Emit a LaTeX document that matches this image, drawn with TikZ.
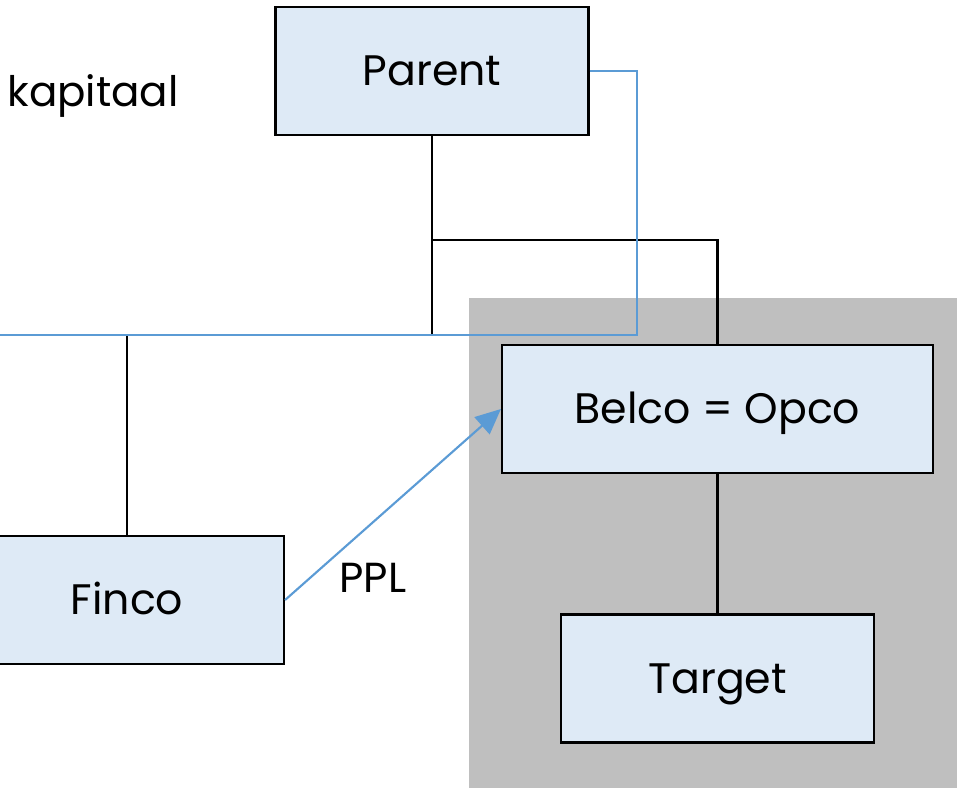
\documentclass[tikz,border=0pt]{standalone}
\usepackage{fontspec}
\setmainfont{Poppins}
\usetikzlibrary{arrows.meta}
\definecolor{boxfill}{HTML}{DEEAF6}
\definecolor{panelgray}{HTML}{BFBFBF}
\definecolor{linkblue}{HTML}{5B9BD5}
\begin{document}
\begin{tikzpicture}[x=0.75pt,y=-0.75pt,
  entity/.style={draw=black, line width=1.6pt, fill=boxfill, inner sep=0pt,
    minimum height=96pt, text height=22.3pt, text depth=0pt,
    font=\fontsize{32}{38}\selectfont},
  tree/.style={draw=black, line width=1.6pt},
  flow/.style={draw=linkblue, line width=1.6pt},
  lbl/.style={inner sep=0pt, anchor=base, font=\fontsize{31.5}{38}\selectfont}]
\clip (0,0) rectangle (957,788);
% shaded group around the operating company
\fill[panelgray] (469,298) rectangle (957,788);

\node[entity, minimum width=234.75pt] (parent) at (432,71) {Parent};
\node[entity, minimum width=323.25pt] (belco) at (717.5,409) {Belco = Opco};
\node[entity, minimum width=234.75pt] (target) at (717.5,678.5) {Target};
\node[entity, minimum width=235.5pt] (finco) at (127,600) {Finco};

\node[lbl] (kap) at (93,107) {kapitaal};
\node[lbl] (ppl) at (373,592) {PPL};

\coordinate (busL) at (127,335);
\coordinate (busR) at (717.5,240);
\coordinate (capCorner) at (637,335);
\coordinate (capEnd) at (0,335);

% ownership lines
\draw[tree] (parent.south) |- (busL) -- (finco.north);
\draw[tree] (parent.south |- busR) -- (busR) -- (belco.north);
\draw[tree] (belco.south) -- (target.north);

% capital flow and loan
\draw[flow] (parent.east) -| (capCorner) -- (capEnd);
\draw[flow, -{Triangle[length=19pt,width=17pt]}] (finco.east) -- (belco.west);
\end{tikzpicture}
\end{document}
